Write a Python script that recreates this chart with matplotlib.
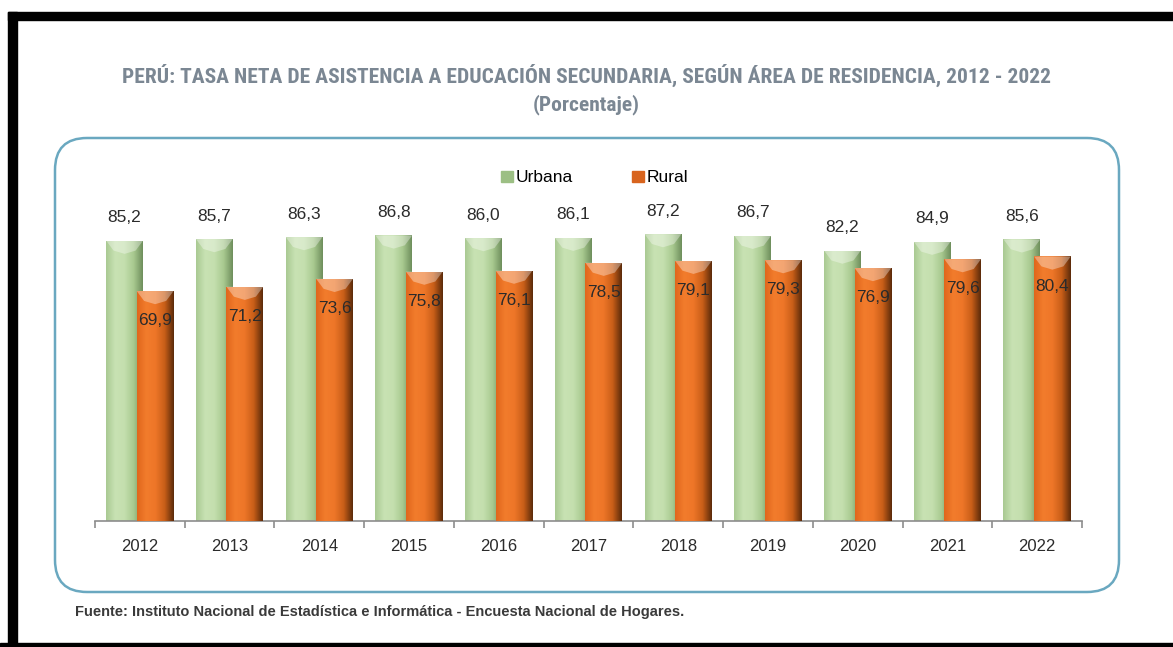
import numpy as np
import matplotlib
matplotlib.use("Agg")
import matplotlib.pyplot as plt
from matplotlib.patches import FancyBboxPatch, Rectangle
from matplotlib.colors import LinearSegmentedColormap
from matplotlib import font_manager

years = ["2012", "2013", "2014", "2015", "2016", "2017", "2018", "2019", "2020", "2021", "2022"]
urbana = [85.2, 85.7, 86.3, 86.8, 86.0, 86.1, 87.2, 86.7, 82.2, 84.9, 85.6]
rural = [69.9, 71.2, 73.6, 75.8, 76.1, 78.5, 79.1, 79.3, 76.9, 79.6, 80.4]
series_names = ["Urbana", "Rural"]

title = "PERÚ: TASA NETA DE ASISTENCIA A EDUCACIÓN SECUNDARIA, SEGÚN ÁREA DE RESIDENCIA, 2012 - 2022"
subtitle = "(Porcentaje)"
source = "Fuente: Instituto Nacional de Estadística e Informática - Encuesta Nacional de Hogares."

avail = {f.name for f in font_manager.fontManager.ttflist}
cond = "DejaVu Sans"
for cand in ["Liberation Sans Narrow", "Roboto Condensed", "Open Sans Condensed",
             "DejaVu Sans Condensed", "Roboto", "Liberation Sans"]:
    if cand in avail:
        cond = cand
        break
body = "Liberation Sans" if "Liberation Sans" in avail else "DejaVu Sans"

fig = plt.figure(figsize=(11.73, 6.47), dpi=100)
fig.patch.set_facecolor("white")

# black frame
fig.patches.append(Rectangle((8/1173, 0), 9/1173, 1 - 12/647, transform=fig.transFigure, color="black", zorder=10))
fig.patches.append(Rectangle((8/1173, 1 - 20/647), 1, 8/647, transform=fig.transFigure, color="black", zorder=10))
fig.patches.append(Rectangle((0, 0), 1, 4/647, transform=fig.transFigure, color="black", zorder=10))

# rounded box
box = FancyBboxPatch((0.55, 0.55), 11.19 - 0.55, 5.09 - 0.55,
                     boxstyle="round,pad=0,rounding_size=0.32",
                     transform=fig.dpi_scale_trans, fill=False,
                     edgecolor="#6AA8C0", linewidth=1.8, zorder=1)
fig.patches.append(box)

title_color = "#7B8793"
t1 = fig.text(586/1173, 1 - 75/647, title, ha="center", va="center", fontsize=14,
              fontweight="bold", color=title_color, family=cond)
renderer = fig.canvas.get_renderer()
wpx = t1.get_window_extent(renderer).width
fs = 14 * 928.0 / wpx
t1.set_fontsize(fs)
fig.text(586/1173, 1 - 105/647, subtitle, ha="center", va="center", fontsize=max(fs, 13),
         fontweight="bold", color=title_color, family=cond)
fig.text(75/1173, 1 - 612/647, source, ha="left", va="center", fontsize=10.5,
         fontweight="bold", color="#3A3A3A", family=body)

ax = fig.add_axes([95/1173, 1 - 521/647, (1082 - 95)/1173, (521 - 192)/647])
ax.set_xlim(-0.5, len(years) - 0.5)
ax.set_ylim(0, 100)
for s in ["top", "right", "left"]:
    ax.spines[s].set_visible(False)
ax.spines["bottom"].set_color("#8C8C8C")
ax.spines["bottom"].set_linewidth(1.2)
ax.set_yticks([])
x = np.arange(len(years))
ax.set_xticks(x)
ax.set_xticklabels(years, fontsize=12, color="#2B2B2B", family=body)
ax.tick_params(axis="x", which="major", length=0, pad=13)
ax.set_xticks(np.arange(-0.5, len(years), 1.0), minor=True)
ax.tick_params(axis="x", which="minor", length=5, color="#8C8C8C", width=1.2, direction="out")

w = 0.41
off = 0.17
green_cmap = LinearSegmentedColormap.from_list("g", ["#A9C992", "#C8E2B3", "#C4DFAE", "#A8C98F", "#6E8E5C"])
orange_cmap = LinearSegmentedColormap.from_list("o", ["#E0661C", "#F27C2C", "#EE7628", "#C85E18", "#5A2A0A"])

bu = ax.bar(x - off, urbana, width=w, color="#C4DFAE", zorder=2, label=series_names[0])
br = ax.bar(x + off, rural, width=w, color="#EE7628", zorder=3, label=series_names[1])

grad = np.linspace(0, 1, 256).reshape(1, -1)
for bars, cmap, z in [(bu, green_cmap, 2.1), (br, orange_cmap, 3.1)]:
    for b in bars:
        x0, y0 = b.get_x(), b.get_y()
        bw, bh = b.get_width(), b.get_height()
        im = ax.imshow(grad, cmap=cmap, aspect="auto", extent=(x0, x0 + bw, y0, y0 + bh),
                       zorder=z, interpolation="bilinear")
        im.set_clip_path(b)
        # top bevel highlight (chevron)
        ax.fill([x0, x0 + bw, x0 + bw*0.8, x0 + bw*0.5, x0 + bw*0.2],
                [y0 + bh, y0 + bh, y0 + bh - 3.0, y0 + bh - 4.0, y0 + bh - 3.0],
                color="white", alpha=0.35, zorder=z + 0.01, lw=0)

ax.set_xlim(-0.5, len(years) - 0.5)
ax.set_ylim(0, 100)

fmt = lambda v: f"{v:.1f}".replace(".", ",")
for xi, v in zip(x, urbana):
    ax.text(xi - off, v + 7, fmt(v), ha="center", va="center", fontsize=12.5, color="#2B2B2B", family=body, zorder=5)
for xi, v in zip(x, rural):
    ax.text(xi + off, v - 9, fmt(v), ha="center", va="center", fontsize=12.5, color="#2B2B2B", family=body, zorder=5)

leg = ax.legend(handles=[Rectangle((0, 0), 1, 1, color="#9CBF84"), Rectangle((0, 0), 1, 1, color="#D8641E")],
                labels=series_names, loc="center", bbox_to_anchor=(595/1173, 1 - 178/647),
                bbox_transform=fig.transFigure, ncol=2, frameon=False,
                handlelength=0.7, handleheight=0.6, handletextpad=0.15, columnspacing=3.4,
                prop={"family": body, "size": 12.5})

fig.savefig("out.png", dpi=100)
